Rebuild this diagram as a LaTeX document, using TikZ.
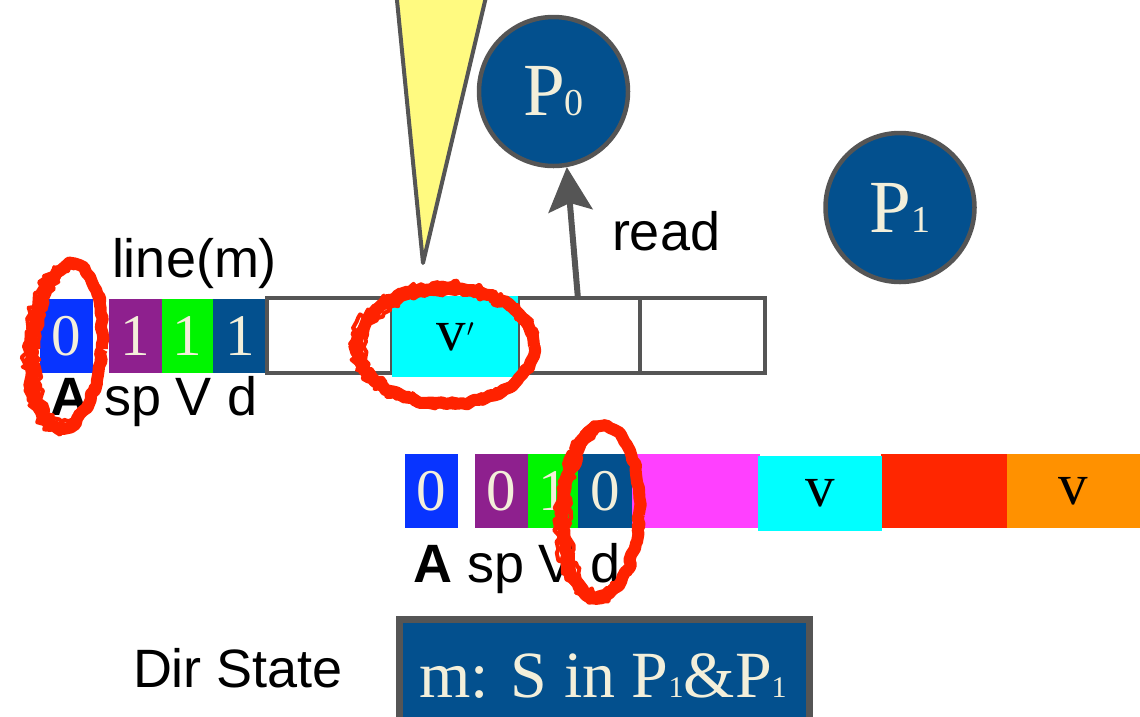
\documentclass[tikz,border=0pt]{standalone}
\usepackage{fontspec}
\setsansfont{Liberation Sans}
\newfontfamily\cellserif{Liberation Serif}
\usetikzlibrary{arrows.meta,decorations.pathmorphing}
\definecolor{cblue}{RGB}{8,52,255}
\definecolor{cpurple}{RGB}{142,32,142}
\definecolor{cgreen}{RGB}{0,245,0}
\definecolor{dblue}{RGB}{3,80,142}
\definecolor{cmagenta}{RGB}{255,64,255}
\definecolor{ccyan}{RGB}{0,255,255}
\definecolor{cred}{RGB}{255,38,0}
\definecolor{corange}{RGB}{255,145,0}
\definecolor{cream}{RGB}{243,239,218}
\definecolor{edge}{RGB}{85,85,85}
\definecolor{tri}{RGB}{255,250,128}
\definecolor{scrib}{RGB}{255,34,0}
\newcommand{\lblfont}{\sffamily\fontsize{54}{60}\selectfont}
\newcommand{\digfont}{\cellserif\fontsize{59}{66}\selectfont}
\newcommand{\psub}[1]{{\fontsize{38}{42}\selectfont #1}}
\newcommand{\dsub}[1]{{\fontsize{30}{36}\selectfont #1}}
\newcommand{\vprime}{v\kern1pt\raisebox{14pt}{\rmfamily\fontsize{44}{44}\selectfont$\prime$}}
\tikzset{
  cell/.style={inner sep=0pt, outer sep=0pt, minimum height=74pt, text=cream, font=\digfont},
  ecell/.style={draw=edge, line width=4pt, inner sep=0pt, outer sep=0pt, minimum height=75pt},
  lbl/.style={inner sep=0pt, outer sep=0pt, anchor=base west, font=\lblfont},
  proc/.style={circle, fill=dblue, draw=edge, line width=4.5pt, minimum size=149pt, inner sep=0pt, text=cream, font=\cellserif\fontsize{75}{80}\selectfont},
  readarrow/.style={draw=edge, line width=6pt, -{Stealth[length=44pt,width=44pt,inset=8pt]}},
  scribble/.style={draw=scrib, line width=12pt, line join=round, decorate, decoration={random steps, segment length=5pt, amplitude=1.8pt}},
  scribthin/.style={draw=scrib, line width=4pt, line join=round, decorate, decoration={random steps, segment length=4pt, amplitude=3pt}}
}
\begin{document}
\begin{tikzpicture}[x=1pt,y=-1pt]
\useasboundingbox (0,0) rectangle (1140,716);
\clip (0,0) rectangle (1140,716);
\pgfmathsetseed{7}
% yellow beam
\draw[fill=tri, draw=edge, line width=4pt, line join=round] (395,-20) -- (423,263) -- (490,-20) -- cycle;
% processors
\node[proc] (P0) at (553.5,91.5) {P\psub{0}};
\node[proc] (P1) at (900,207.5) {P\psub{1}};
% top line
\node[cell, fill=cblue, minimum width=53pt] (t1) at (66.5,336) {0};
\node[cell, fill=cpurple, minimum width=53pt] (t2) at (135.5,336) {1};
\node[cell, fill=cgreen, minimum width=51pt] (t3) at (187.5,336) {1};
\node[cell, fill=dblue, minimum width=54pt] (t4) at (240,336) {1};
\node[ecell, minimum width=125pt] (e1) at (329.5,335.5) {};
\node[ecell, minimum width=126pt] (e2) at (455,335.5) {};
\node[ecell, minimum width=122pt] (e3) at (579,335.5) {};
\node[ecell, minimum width=125pt] (e4) at (702.5,335.5) {};
\node[cell, fill=ccyan, text=black, minimum width=126pt, minimum height=81pt] (tv) at (455,336.5) {\vprime};
\node[lbl] (linem) at (112,277) {line(m)};
\node[lbl] (tlab) at (50,415) {\textbf{A} sp V d};
% read arrow
\coordinate (rdstart) at (578,299);
\draw[readarrow] (rdstart) -- (P0.-80);
\node[lbl] (read) at (612,250) {read};
% bottom line
\node[cell, fill=cblue, minimum width=53pt] (b1) at (431.5,491) {0};
\node[cell, fill=cpurple, minimum width=53pt] (b2) at (501.5,491) {0};
\node[cell, fill=cgreen, minimum width=50pt] (b3) at (553,491) {1};
\node[cell, fill=dblue, minimum width=54pt] (b4) at (605,491) {0};
\node[cell, fill=cmagenta, minimum width=128pt] (b5) at (696,491) {};
\node[cell, fill=cred, minimum width=126pt] (b7) at (944,491) {};
\node[cell, fill=corange, text=black, minimum width=133pt] (b8) at (1073.5,491) {v};
\node[cell, fill=ccyan, text=black, minimum width=124pt, minimum height=75pt] (b6) at (820,493.5) {v};
\node[lbl] (blab) at (413,582) {\textbf{A} sp V d};
% directory
\node[lbl] (dirlab) at (133,687) {Dir State};
\node[draw=edge, fill=dblue, line width=7pt, inner sep=0pt, minimum width=410pt, minimum height=121pt] (dirbox) at (604.5,680) {};
\node[inner sep=0pt, anchor=base, text=cream, font=\cellserif\fontsize{66}{70}\selectfont] (dirtxt) at (603,697) {m: S in P\dsub{1}\&P\dsub{1}};
% red scribbles
\begin{scope}[rotate around={-5:(67,346)}]
\draw[scribble] (67,346) ellipse [x radius=35pt, y radius=82pt];
\draw[scribthin] (63,347) ellipse [x radius=38pt, y radius=85pt];
\draw[scribthin] (69,344) ellipse [x radius=31pt, y radius=78pt];
\end{scope}
\draw[scribble] (446,346) ellipse [x radius=88pt, y radius=58pt];
\draw[scribthin] (444,345) ellipse [x radius=92pt, y radius=62pt];
\draw[scribthin] (448,347) ellipse [x radius=84pt, y radius=54pt];
\begin{scope}[rotate around={-3:(601,512)}]
\draw[scribble] (601,512) ellipse [x radius=38pt, y radius=86pt];
\draw[scribthin] (599,513) ellipse [x radius=42pt, y radius=89pt];
\draw[scribthin] (603,510) ellipse [x radius=34pt, y radius=82pt];
\end{scope}
\end{tikzpicture}
\end{document}
